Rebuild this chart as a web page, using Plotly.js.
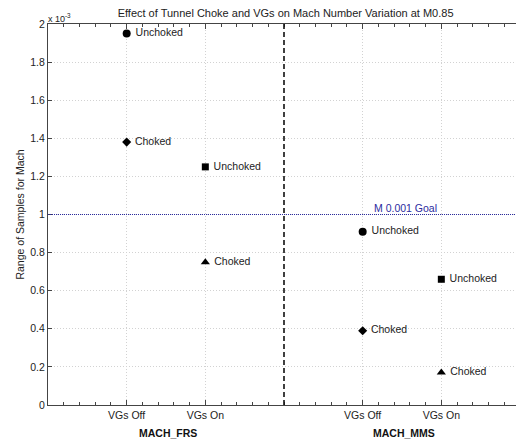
<!DOCTYPE html>
<html>
<head>
<meta charset="utf-8">
<script src="https://cdn.plot.ly/plotly-3.0.1.min.js"></script>
<style>
html, body { margin: 0; padding: 0; overflow: hidden; background: #fff; }
#chart { width: 524px; height: 441px; }
</style>
</head>
<body>
<div id="chart"></div>
<script>
// ---- data ----
const groups = ['MACH_FRS', 'MACH_MMS'];
const categories = ['VGs Off', 'VGs On'];
const frsUnchoked = [1.95e-3, 1.25e-3];
const frsChoked = [1.38e-3, 0.75e-3];
const mmsUnchoked = [0.91e-3, 0.66e-3];
const mmsChoked = [0.39e-3, 0.17e-3];
const goalValue = 1e-3;
const goalLabel = 'M 0.001 Goal';
const yTickValues = [0, 0.2, 0.4, 0.6, 0.8, 1, 1.2, 1.4, 1.6, 1.8, 2];
const yTickLabels = ['0', '0.2', '0.4', '0.6', '0.8', '1', '1.2', '1.4', '1.6', '1.8', '2'];
const unchokedText = 'Unchoked';
const chokedText = 'Choked';

const series = [
  { group: 0, values: frsUnchoked, label: unchokedText, symbols: ['circle', 'square'] },
  { group: 0, values: frsChoked, label: chokedText, symbols: ['diamond', 'triangle-up'] },
  { group: 1, values: mmsUnchoked, label: unchokedText, symbols: ['circle', 'square'] },
  { group: 1, values: mmsChoked, label: chokedText, symbols: ['diamond', 'triangle-up'] }
];

const FONT = 'Liberation Sans, Arial, Helvetica, sans-serif';
const xOf = (g, c) => g * 3 + c + 1;

const traces = [];
series.forEach(s => {
  s.values.forEach((v, c) => {
    const sym = s.symbols[c];
    traces.push({
      type: 'scatter',
      mode: 'markers+text',
      x: [xOf(s.group, c)],
      y: [v * 1e3],
      text: [' ' + s.label],
      textposition: 'middle right',
      textfont: { family: FONT, size: 10.5, color: '#222' },
      marker: {
        symbol: sym,
        size: sym === 'square' ? 7 : (sym === 'diamond' ? 7 : 8),
        color: '#000'
      },
      showlegend: false,
      hoverinfo: 'skip',
      cliponaxis: false
    });
  });
});

const tickVals = [];
const tickText = [];
groups.forEach((g, gi) => {
  categories.forEach((c, ci) => { tickVals.push(xOf(gi, ci)); tickText.push(c); });
});

const annotations = [
  {
    xref: 'paper', yref: 'paper', x: 0, y: 1, xanchor: 'left', yanchor: 'bottom',
    text: 'x 10<sup>-3</sup>', showarrow: false, xshift: -2, yshift: -2,
    font: { family: FONT, size: 9, color: '#222' }
  },
  {
    xref: 'x', yref: 'y', x: 4.12, y: goalValue * 1e3, xanchor: 'left', yanchor: 'bottom',
    text: goalLabel, showarrow: false, yshift: -1,
    font: { family: FONT, size: 10.5, color: '#2b2ba0' }
  }
];
groups.forEach((g, gi) => {
  annotations.push({
    xref: 'x', yref: 'paper', x: gi * 3 + 1.52, y: 0, xanchor: 'center', yanchor: 'middle',
    yshift: -28, text: '<b>' + g + '</b>', showarrow: false,
    font: { family: FONT, size: 10.5, color: '#111' }
  });
});

const layout = {
  width: 524,
  height: 441,
  margin: { l: 48, r: 4, t: 24, b: 36 },
  paper_bgcolor: '#fff',
  plot_bgcolor: '#fff',
  font: { family: FONT, size: 10.5, color: '#222' },
  title: {
    text: 'Effect of Tunnel Choke and VGs on Mach Number Variation at M0.85',
    font: { family: FONT, size: 11, color: '#222' },
    x: 0.545, xanchor: 'center', xref: 'container',
    y: 1 - 13 / 441, yanchor: 'middle', yref: 'container'
  },
  xaxis: {
    range: [0, 6],
    tickmode: 'array',
    tickvals: tickVals,
    ticktext: tickText,
    ticks: 'inside',
    ticklen: 5,
    tickcolor: '#444',
    showline: true,
    linecolor: '#444',
    linewidth: 1,
    mirror: 'ticks',
    showgrid: true,
    gridcolor: '#d2d2d2',
    griddash: '1px,2px',
    gridwidth: 1,
    zeroline: false,
    tickfont: { family: FONT, size: 10.5, color: '#222' },
    minor: { dtick: 0.2, tick0: 0, ticks: 'inside', ticklen: 3, tickcolor: '#444', showgrid: false }
  },
  yaxis: {
    range: [0, 2],
    tickmode: 'array',
    tickvals: yTickValues,
    ticktext: yTickLabels,
    ticks: 'inside',
    ticklen: 4,
    tickcolor: '#444',
    showline: true,
    linecolor: '#444',
    linewidth: 1,
    mirror: 'ticks',
    showgrid: true,
    gridcolor: '#d2d2d2',
    griddash: '1px,2px',
    gridwidth: 1,
    zeroline: false,
    tickfont: { family: FONT, size: 10.5, color: '#222' },
    title: { text: 'Range of Samples for Mach', standoff: 3, font: { family: FONT, size: 10.5, color: '#222' } }
  },
  shapes: [
    { type: 'line', xref: 'x', yref: 'paper', x0: 3, x1: 3, y0: 0, y1: 1,
      line: { color: '#111', width: 1.6, dash: '5px,3px' } },
    { type: 'line', xref: 'paper', yref: 'y', x0: 0, x1: 1, y0: goalValue * 1e3, y1: goalValue * 1e3,
      line: { color: '#2b2ba0', width: 1, dash: '1px,1px' } }
  ],
  annotations: annotations
};

Plotly.newPlot('chart', traces, layout, { displayModeBar: false, staticPlot: true });
</script>
</body>
</html>
